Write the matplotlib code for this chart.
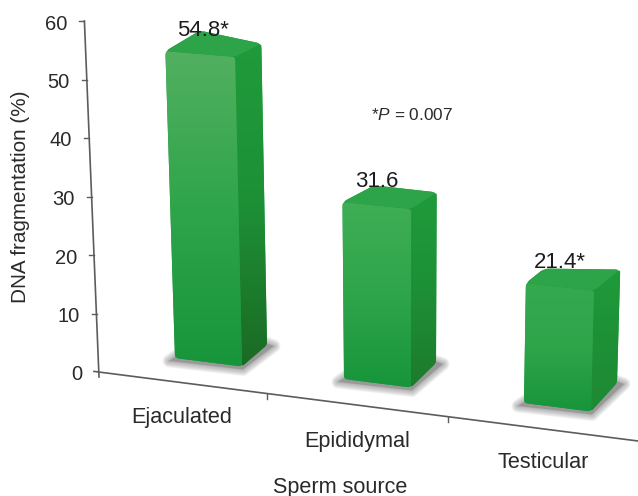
import numpy as np
import matplotlib
matplotlib.use("Agg")
import matplotlib.pyplot as plt
from matplotlib.colors import LinearSegmentedColormap
from matplotlib.patches import PathPatch, Polygon
from matplotlib.path import Path

categories = ["Ejaculated", "Epididymal", "Testicular"]
values = [54.8, 31.6, 21.4]
value_labels = ["54.8*", "31.6", "21.4*"]
y_ticks = [0, 10, 20, 30, 40, 50, 60]

plt.rcParams["font.family"] = "Liberation Sans"
plt.rcParams["mathtext.fontset"] = "custom"
plt.rcParams["mathtext.rm"] = "Liberation Sans"
plt.rcParams["mathtext.it"] = "Liberation Sans:italic"

fig = plt.figure(figsize=(6.38, 4.96), dpi=100)
ax = fig.add_axes([0, 0, 1, 1])
text_col = "#2a2a2a"
axis_col = "#5c5c5c"

# layout of the bars on the floor
base_x = [175, 344, 524]
base_y = [358, 379, 403]
back_left = [(33, -26), (31, -23), (18, -21)]
back_right = [(92, -13), (92, -16), (93, -20)]
back_scale = [5.5, 5.4, 5.3]
side_dark = ["#1b6a24", "#1d7a2c", "#1f8a34"]
front_light = ["#52b060", "#3fae55", "#36a94f"]
label_dx = [37.5, 34, 34]


# scene projection: uprights lean towards a point above the middle of the floor
def lift(x, y, value, scale):
    h = value * scale
    return x + (x - 407) * 0.000135 * h, y - h


def rounded(points, r=3.5):
    verts, codes = [], []
    n = len(points)
    for k in range(n):
        p0 = np.array(points[k - 1], float)
        p1 = np.array(points[k], float)
        p2 = np.array(points[(k + 1) % n], float)
        a = p1 + (p0 - p1) / np.linalg.norm(p0 - p1) * r
        b = p1 + (p2 - p1) / np.linalg.norm(p2 - p1) * r
        verts += [a, p1, b]
        codes += [Path.MOVETO if k == 0 else Path.LINETO, Path.CURVE3, Path.CURVE3]
    verts.append(verts[0])
    codes.append(Path.CLOSEPOLY)
    return Path(verts, codes)


def gradient_face(points, colors, r=3.5):
    pts = np.array(points)
    x0, x1 = pts[:, 0].min() - 1, pts[:, 0].max() + 1
    y0, y1 = pts[:, 1].min() - 1, pts[:, 1].max() + 1
    cmap = LinearSegmentedColormap.from_list("face", colors)
    grad = np.linspace(0, 1, 128).reshape(-1, 1)
    im = ax.imshow(grad, cmap=cmap, extent=(x0, x1, y1, y0), aspect="auto",
                   interpolation="bilinear", zorder=3)
    im.set_clip_path(PathPatch(rounded(points, r), transform=ax.transData))


for i, (value, label) in enumerate(zip(values, value_labels)):
    fx, fy = base_x[i], base_y[i]
    fl = (fx, fy)
    fr = (fx + 67, fy + 8.5)
    rb = (fx + back_right[i][0], fy + back_right[i][1])
    bl = (fx + back_left[i][0], fy + back_left[i][1])

    # soft floor shadow, built up from widening translucent outlines
    shadow = [(fl[0] - 6, fl[1] + 3), (fl[0] + 4, fl[1] - 4), (rb[0] - 4, rb[1] - 3),
              (rb[0] + 7, rb[1] + 1), (fr[0] + 1, fr[1] + 3)]
    for lw in np.arange(0.5, 10, 1):
        ax.add_patch(Polygon(shadow, closed=True, fc="none", ec="#777777", lw=lw,
                             alpha=0.07, joinstyle="round", zorder=2))
    ax.add_patch(Polygon(shadow, closed=True, fc="#999999", ec="none", zorder=2))

    tfl = lift(*fl, value, 5.6)
    tfr = lift(*fr, value, 5.65)
    trb = lift(*rb, value, back_scale[i])
    tbl = lift(*bl, value, back_scale[i])

    # backing keeps the rounded corners from showing white between faces
    ax.add_patch(PathPatch(rounded([fl, fr, rb, trb, tbl, tfl], 5), fc="#1f9a3d", ec="none", zorder=2.5))

    gradient_face([tfr, trb, rb, fr], ["#1f9b3b", "#1d9036", side_dark[i]], r=2.5)
    gradient_face([tfl, tfr, fr, fl], [front_light[i], "#2fa54a", "#17953a"], r=3)
    gradient_face([tfl, tbl, trb, tfr], ["#2ea449", "#2ea449"], r=5)

    ax.text(tfl[0] + label_dx[i], tfl[1] - 20.5, label, fontsize=16, color="#1c1c1c",
            ha="center", va="center", zorder=5)

# axes drawn as plain lines in scene coordinates
ox, oy = 99, 372
x_axis_end = (638, 441)
top = lift(ox, oy, 60, 5.85)
ax.plot([ox, top[0]], [oy + 5, top[1]], color=axis_col, lw=1.2, zorder=1)
ax.plot([ox - 5, x_axis_end[0]], [oy - 0.6, x_axis_end[1]], color=axis_col, lw=1.2, zorder=1)

for tick in y_ticks:
    tx, ty = lift(ox, oy, tick, 5.85)
    if tick > 0:
        ax.plot([tx - 5, tx], [ty, ty], color=axis_col, lw=1.0, zorder=1)
    ax.text(tx - 17, ty + 3, str(tick), fontsize=14.5, color=text_col, ha="right", va="center")

for tx in [267, 448]:
    ty = oy + (tx - ox) * (x_axis_end[1] - oy) / (x_axis_end[0] - ox)
    ax.plot([tx, tx], [ty, ty + 5], color=axis_col, lw=1.0, zorder=1)

for name, lx, ly in zip(categories, [182, 357, 543], [417, 441, 462]):
    ax.text(lx, ly, name, fontsize=15.6, color=text_col, ha="center", va="center")

ax.text(340, 487, "Sperm source", fontsize=15.6, color=text_col, ha="center", va="center")
ax.text(21, 197, "DNA fragmentation (%)", fontsize=14.9, color=text_col, rotation=90,
        ha="center", va="center")
ax.text(412, 115, r"*$\mathit{P}$ = 0.007", fontsize=12.4, color=text_col, ha="center", va="center")

ax.set_xlim(0, 638)
ax.set_ylim(496, 0)
ax.axis("off")
fig.savefig("out.png", dpi=100)
